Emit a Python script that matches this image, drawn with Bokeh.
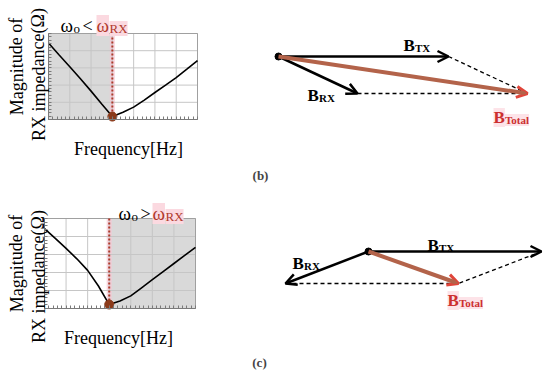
from bokeh.plotting import figure
from bokeh.models import (Range1d, FixedTicker, Label, Arrow, OpenHead,
                          ColumnDataSource)
from bokeh.layouts import row, column
from bokeh.embed import file_html
from bokeh.resources import INLINE

# ---------------- data ----------------
freq = [0, 0.5, 1, 1.5, 2, 2.5, 3, 3.5, 4, 4.5, 5, 5.5, 6, 6.5, 7]
mag_b = [4.45, 3.75, 3.07, 2.37, 1.65, 0.9, 0.17, 0.42, 0.72, 1.13, 1.57, 2.0, 2.44, 2.93, 3.43]
mag_c = [4.44, 3.9, 3.34, 2.76, 2.12, 1.25, 0.22, 0.42, 0.7, 1.15, 1.6, 2.05, 2.5, 2.95, 3.39]
w_rx = 3.0                     # resonance frequency (grid units)
x_ticks = [0, 1, 2, 3, 4, 5, 6, 7]
y_ticks = [0, 1, 2, 3, 4, 5]
x_minor = [i * 0.2 for i in range(36)]
y_minor = [i * 0.2 for i in range(26)]

# phasor diagrams (origin, TX vector, RX vector), drawing units
origin_b = (278, 56)
tx_b = (170, 0)
rx_b = (79, 37)
origin_c = (368, 251)
tx_c = (173, 0)
rx_c = (-83, 32)

SERIF = "Liberation Serif"
RED = "#b03a2c"
PINK = "#fbd9e0"
XMAX, YMAX = 7, 5


def impedance_plot(mags, shade, oy, h, L, R, T, B):
    """oy: page offset of figure; L,R,T,B: page px of the data box."""
    w = 223
    bl, bb = 5, 10
    sx = (R - L) / XMAX
    sy = (B - T) / YMAX
    xr = Range1d((bl - L) / sx, (w - L) / sx)
    yr = Range1d((B - (oy + h - bb)) / sy, (B - oy) / sy)
    p = figure(width=w, height=h, x_range=xr, y_range=yr,
               output_backend="svg", toolbar_location=None,
               min_border_left=bl, min_border_right=0,
               min_border_top=0, min_border_bottom=bb)
    p.outline_line_color = None
    p.background_fill_color = "white"
    p.border_fill_color = "white"
    p.grid.visible = False
    # shaded region + pink halo of resonance line
    p.quad(left=[shade[0]], right=[shade[1]], bottom=[0], top=[YMAX],
           fill_color="#d9d9d9", line_color=None)
    p.quad(left=[w_rx - 0.12], right=[w_rx + 0.12], bottom=[0], top=[YMAX],
           fill_color="#f6c8d4", fill_alpha=0.7, line_color=None)
    # grid lines
    p.segment(x0=x_ticks, y0=[0] * len(x_ticks), x1=x_ticks, y1=[YMAX] * len(x_ticks),
              line_color="#c6c6c6", line_width=1)
    p.segment(x0=[0] * len(y_ticks), y0=y_ticks, x1=[XMAX] * len(y_ticks), y1=y_ticks,
              line_color="#c6c6c6", line_width=1)
    # box outline
    p.quad(left=[0], right=[XMAX], bottom=[0], top=[YMAX], fill_color=None,
           line_color="#a0a0a0", line_width=1)
    # axes drawn at the data box edges (minor ticks only, no labels)
    for ax, tk, mn in ((p.xaxis, x_ticks, x_minor), (p.yaxis, y_ticks, y_minor)):
        ax.ticker = FixedTicker(ticks=[], minor_ticks=mn)
        ax.fixed_location = 0
        ax.bounds = (0, tk[-1])
        ax.axis_line_color = "#7a7a7a"
        ax.major_tick_in = 0
        ax.major_tick_out = 0
        ax.minor_tick_in = 3
        ax.minor_tick_out = 0
        ax.minor_tick_line_color = "#7a7a7a"
        ax.major_label_standoff = 0
    p.line(freq, mags, line_color="black", line_width=1.6)
    p.segment(x0=[w_rx], y0=[0], x1=[w_rx], y1=[YMAX], line_color=RED,
              line_dash="2 2", line_width=2)
    p.scatter([w_rx], [mags[freq.index(w_rx)]], size=9, color="#8b3a1a")

    def txt(px, py, text, size, color="black", align="left",
            baseline="alphabetic", angle=0.0, style="normal", bg=None):
        x = (px - L) / sx
        y = (B - py) / sy
        p.add_layout(Label(x=x, y=y, text=text, text_font=SERIF,
                           text_font_size=f"{size}px", text_color=color,
                           text_align=align, text_baseline=baseline,
                           angle=angle, text_font_style=style,
                           background_fill_color=bg))
    return p, txt


# plot (b): data box 48..197 x 33..119 (page px)
p1, t1 = impedance_plot(mag_b, (0, w_rx), 0, 188, 48, 197, 33, 119)
t1(16, 66, "Magnitude of", 18, align="center", baseline="middle", angle=1.5708)
t1(38, 74, "RX impedance(Ω)", 18, align="center", baseline="middle", angle=1.5708)
t1(128, 148, "Frequency[Hz]", 18, align="center", baseline="alphabetic")
t1(60, 25, "ω", 19)
t1(73, 28, "o", 13)
t1(82, 25, "<", 18)
t1(96, 25, "ω", 19, color=RED, bg=PINK)
t1(109, 28, "RX", 13, color=RED, bg=PINK)

# plot (c): data box 44..195 x 218..308
p2, t2 = impedance_plot(mag_c, (w_rx, XMAX), 188, 187, 44, 195, 218, 308)
t2(16, 263, "Magnitude of", 18, align="center", baseline="middle", angle=1.5708)
t2(38, 276, "RX impedance(Ω)", 18, align="center", baseline="middle", angle=1.5708)
t2(118, 337, "Frequency[Hz]", 18, align="center", baseline="alphabetic")
t2(118, 213, "ω", 19)
t2(131, 216, "o", 13)
t2(140, 213, ">", 18)
t2(152, 213, "ω", 19, color=RED, bg=PINK)
t2(165, 216, "RX", 13, color=RED, bg=PINK)

# ---------------- phasor diagrams ----------------
d = figure(width=327, height=375, x_range=Range1d(223, 550), y_range=Range1d(375, 0),
           output_backend="svg", toolbar_location=None,
           x_axis_location=None, y_axis_location=None,
           min_border=0, min_border_left=0, min_border_right=0,
           min_border_top=0, min_border_bottom=0)
d.grid.visible = False
d.outline_line_color = None
d.background_fill_color = "white"
d.border_fill_color = "white"


def phasor(o, tx, rx):
    ox, oy = o
    tot = (tx[0] + rx[0], tx[1] + rx[1])
    tip_tx = (ox + tx[0], oy + tx[1])
    tip_rx = (ox + rx[0], oy + rx[1])
    tip_t = (ox + tot[0], oy + tot[1])
    d.line([tip_rx[0], tip_t[0]], [tip_rx[1], tip_t[1]], line_color="black",
           line_dash="4 3", line_width=1.3)
    d.line([tip_tx[0], tip_t[0]], [tip_tx[1], tip_t[1]], line_color="black",
           line_dash="4 3", line_width=1.3)
    src = ColumnDataSource(dict(x0=[ox, ox], y0=[oy, oy],
                                x1=[tip_tx[0], tip_rx[0]], y1=[tip_tx[1], tip_rx[1]]))
    d.add_layout(Arrow(end=OpenHead(size=11, line_width=2.5, line_color="black"),
                       source=src, x_start="x0", y_start="y0", x_end="x1", y_end="y1",
                       line_color="black", line_width=2.5))
    srct = ColumnDataSource(dict(x0=[ox], y0=[oy], x1=[tip_t[0]], y1=[tip_t[1]]))
    d.add_layout(Arrow(end=OpenHead(size=11, line_width=3, line_color="#e0453a"),
                       source=srct, x_start="x0", y_start="y0", x_end="x1", y_end="y1",
                       line_color="#b3634a", line_width=4))
    d.scatter([ox], [oy], size=7, color="black")


phasor(origin_b, tx_b, rx_b)
phasor(origin_c, tx_c, rx_c)


def dlabel(x, y, main, sub, color="black", bg=None):
    d.add_layout(Label(x=x, y=y, text=main, text_font=SERIF, text_font_size="17px",
                       text_font_style="bold", text_color=color,
                       text_baseline="alphabetic", background_fill_color=bg))
    d.add_layout(Label(x=x + 11.5, y=y + 2.5, text=sub, text_font=SERIF,
                       text_font_size="11px", text_font_style="bold", text_color=color,
                       text_baseline="alphabetic", background_fill_color=bg))


LRED = "#cc3030"
dlabel(403, 45, "B", "TX")
dlabel(307, 95, "B", "RX")
dlabel(493, 117, "B", "Total", LRED, "#fde3e8")
dlabel(427, 245, "B", "TX")
dlabel(292, 263, "B", "RX")
dlabel(447, 300, "B", "Total", LRED, "#fde3e8")

d.add_layout(Label(x=260, y=175, text="(b)", text_font=SERIF, text_font_size="13px",
                   text_font_style="bold", text_align="center", text_baseline="middle"))
d.add_layout(Label(x=259, y=362, text="(c)", text_font=SERIF, text_font_size="13px",
                   text_font_style="bold", text_align="center", text_baseline="middle"))

layout = row(column(p1, p2), d)
open("out.html", "w").write(file_html(layout, INLINE))
